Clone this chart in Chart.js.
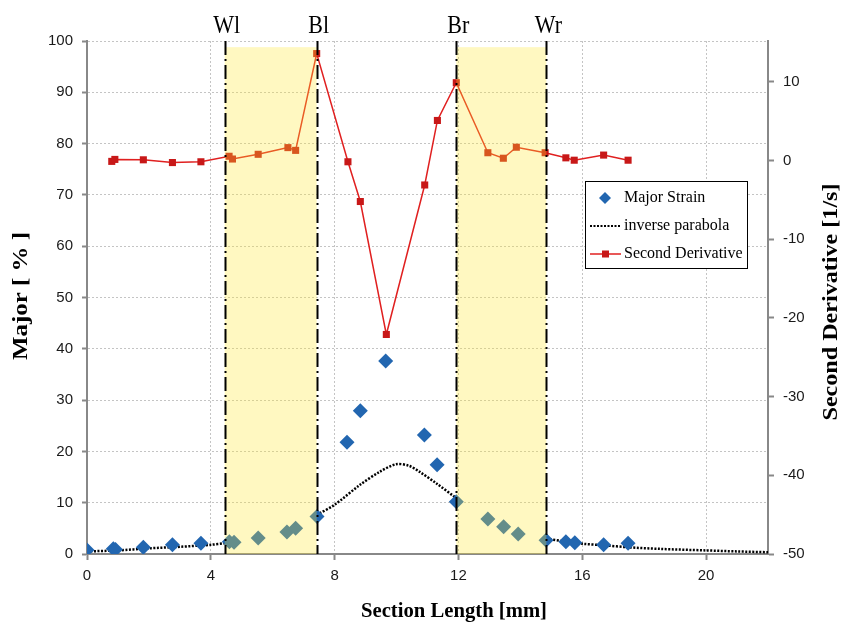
<!DOCTYPE html>
<html>
<head>
<meta charset="utf-8">
<script src="https://cdn.jsdelivr.net/npm/chart.js@4.4.0/dist/chart.umd.min.js"></script>
<style>
  body { margin: 0; background: #fff; }
  #wrap { width: 853px; height: 628px; position: relative; }
</style>
</head>
<body>
<div id="wrap"><canvas id="myChart"></canvas></div>
<script>
// major strain points [mm, %]
const strainX = [0, 0.85, 0.92, 1.82, 2.76, 3.68, 4.6, 4.75, 5.53, 6.46, 6.74, 7.43, 8.4, 8.83, 9.65, 10.9, 11.31, 11.93, 12.95, 13.46, 13.93, 14.83, 15.47, 15.76, 16.69, 17.48];
const strainY = [0.8, 1.0, 0.9, 1.3, 1.8, 2.1, 2.4, 2.3, 3.1, 4.3, 5.0, 7.3, 21.8, 27.9, 37.6, 23.2, 17.4, 10.2, 6.8, 5.3, 3.9, 2.7, 2.4, 2.2, 1.8, 2.1];

// inverse parabola fit (no values inside the bands)
const parabolaX = [0, 1, 2, 3, 4, 4.45, 6, 7.42, 8.0, 8.8, 9.45, 9.98, 10.4, 10.75, 11.28, 11.93, 13.4, 14.84, 15.5, 16, 16.7, 17.5, 18.5, 20, 21, 22];
const parabolaY = [0.5, 0.7, 1.1, 1.4, 1.8, 2.1, null, 7.6, 9.6, 13.4, 16.0, 17.5, 17.2, 16.0, 13.8, 10.9, null, 3.0, 2.4, 2.0, 1.7, 1.3, 1.0, 0.7, 0.5, 0.35];

// second derivative [1/s]
const derivX = [0.8, 0.9, 1.82, 2.76, 3.68, 4.59, 4.7, 5.53, 6.49, 6.74, 7.42, 8.43, 8.83, 9.67, 10.91, 11.32, 11.93, 12.95, 13.45, 13.87, 14.8, 15.47, 15.74, 16.69, 17.48];
const derivY = [-0.1, 0.15, 0.1, -0.25, -0.15, 0.55, 0.2, 0.8, 1.65, 1.3, 13.6, -0.15, -5.2, -22.1, -3.1, 5.1, 9.9, 1.0, 0.3, 1.7, 1.0, 0.35, 0.05, 0.7, 0.05];

// weld / boundary markers
const markerNames = ['Wl', 'Bl', 'Br', 'Wr'];
const markerX = [4.45, 7.42, 11.93, 14.84];

const rightTicks = [-50, -40, -30, -20, -10, 0, 10];

function pts(xs, ys) {
    return xs.map((x, i) => ({ x: x, y: ys[i] }));
}

const serif = "'Liberation Serif', 'Times New Roman', serif";
const sans = "'Liberation Sans', Arial, sans-serif";

// draws a bold serif title stretched to a given length
function drawTitle(ctx, text, cx, cy, angle, length) {
    ctx.save();
    ctx.font = 'bold 20px ' + serif;
    ctx.fillStyle = '#000';
    ctx.textAlign = 'center';
    ctx.textBaseline = 'middle';
    const w = ctx.measureText(text).width;
    ctx.translate(cx, cy);
    ctx.rotate(angle);
    ctx.scale(length / w, 1);
    ctx.fillText(text, 0, 0);
    ctx.restore();
}

// yellow bands drawn over the data, then the dash-dot lines and their names
const bandsPlugin = {
    id: 'bands',
    afterDatasetsDraw(chart) {
        const { ctx, chartArea, scales } = chart;
        const xs = scales.x, ys = scales.y;
        const top = ys.getPixelForValue(98.8), bottom = ys.getPixelForValue(0);
        ctx.save();
        ctx.fillStyle = 'rgba(255,232,50,0.3)';
        [[0, 1], [2, 3]].forEach(p => {
            const a = xs.getPixelForValue(markerX[p[0]]);
            const b = xs.getPixelForValue(markerX[p[1]]);
            ctx.fillRect(a, top, b - a, bottom - top);
        });
        ctx.strokeStyle = '#000';
        ctx.lineWidth = 2;
        ctx.setLineDash([14, 4, 2, 4]);
        markerX.forEach(v => {
            const px = Math.round(xs.getPixelForValue(v)) + 0.5;
            ctx.beginPath();
            ctx.moveTo(px, chartArea.top);
            ctx.lineTo(px, chartArea.bottom);
            ctx.stroke();
        });
        ctx.setLineDash([]);
        ctx.fillStyle = '#000';
        ctx.font = '22px ' + serif;
        ctx.textAlign = 'center';
        ctx.textBaseline = 'middle';
        markerNames.forEach((n, i) => {
            ctx.save();
            ctx.translate(xs.getPixelForValue(markerX[i]) + 2, 27);
            ctx.scale(1, 1.12);
            ctx.fillText(n, 0, 0);
            ctx.restore();
        });
        ctx.restore();
    },
    afterDraw(chart) {
        const ctx = chart.ctx;
        drawTitle(ctx, 'Major [ % ]', 22, 296, -Math.PI / 2, 128);
        drawTitle(ctx, 'Second Derivative [1/s]', 832, 302, -Math.PI / 2, 237);
        drawTitle(ctx, 'Section Length [mm]', 454, 612, 0, 186);

        // legend box
        ctx.save();
        const lx = 585, ly = 181, lw = 162, lh = 87;
        ctx.fillStyle = '#fff';
        ctx.fillRect(lx, ly, lw, lh);
        ctx.strokeStyle = '#000';
        ctx.lineWidth = 1;
        ctx.strokeRect(lx + 0.5, ly + 0.5, lw, lh);
        ctx.font = '16px ' + serif;
        ctx.fillStyle = '#000';
        ctx.textBaseline = 'middle';
        const rows = [198, 226, 254];
        ctx.fillText('Major Strain', 624, rows[0]);
        ctx.fillText('inverse parabola', 624, rows[1]);
        ctx.fillText('Second Derivative', 624, rows[2]);
        // diamond
        ctx.fillStyle = '#2266b0';
        ctx.beginPath();
        ctx.moveTo(605, rows[0] - 6);
        ctx.lineTo(611, rows[0]);
        ctx.lineTo(605, rows[0] + 6);
        ctx.lineTo(599, rows[0]);
        ctx.closePath();
        ctx.fill();
        // dotted
        ctx.strokeStyle = '#000';
        ctx.lineWidth = 2;
        ctx.setLineDash([2, 1.5]);
        ctx.beginPath();
        ctx.moveTo(590, rows[1]);
        ctx.lineTo(621, rows[1]);
        ctx.stroke();
        ctx.setLineDash([]);
        // red line with square
        ctx.strokeStyle = '#e02020';
        ctx.lineWidth = 1.5;
        ctx.beginPath();
        ctx.moveTo(590, rows[2]);
        ctx.lineTo(621, rows[2]);
        ctx.stroke();
        ctx.fillStyle = '#c81818';
        ctx.fillRect(602, rows[2] - 3.5, 7, 7);
        ctx.restore();
    }
};

function loadChart() {
    const ctx = document.getElementById('myChart').getContext('2d');
    new Chart(ctx, {
        type: 'scatter',
        data: {
            datasets: [
                {
                    label: 'Major Strain',
                    data: pts(strainX, strainY),
                    yAxisID: 'y',
                    pointStyle: 'rectRot',
                    pointRadius: 7.5,
                    backgroundColor: '#2266b0',
                    borderColor: '#2266b0',
                    borderWidth: 0,
                    showLine: false
                },
                {
                    label: 'inverse parabola',
                    data: pts(parabolaX, parabolaY),
                    yAxisID: 'y',
                    showLine: true,
                    spanGaps: false,
                    borderColor: '#000',
                    borderWidth: 2.5,
                    borderDash: [2, 1.5],
                    pointRadius: 0,
                    tension: 0.3
                },
                {
                    label: 'Second Derivative',
                    data: pts(derivX, derivY),
                    yAxisID: 'y2',
                    showLine: true,
                    borderColor: '#e02020',
                    borderWidth: 1.5,
                    pointStyle: 'rect',
                    pointRadius: 5,
                    backgroundColor: '#c81818',
                    pointBorderWidth: 0
                }
            ]
        },
        options: {
            responsive: true,
            maintainAspectRatio: false,
            animation: false,
            layout: { padding: { top: 41, left: 0, right: 0, bottom: 0 } },
            plugins: {
                legend: { display: false },
                tooltip: { enabled: false }
            },
            scales: {
                x: {
                    type: 'linear',
                    min: 0,
                    max: 22,
                    afterFit: s => { s.height = 74; },
                    ticks: {
                        stepSize: 4,
                        includeBounds: false,
                        padding: 7,
                        color: '#1a1a1a',
                        font: { family: sans, size: 15 }
                    },
                    grid: { color: '#c4c4c4', tickColor: '#888', tickLength: 6, tickWidth: 2 },
                    border: { color: '#888', width: 2, dash: [2, 2] }
                },
                y: {
                    position: 'left',
                    min: 0,
                    max: 100,
                    afterFit: s => { s.width = 87; },
                    ticks: {
                        stepSize: 10,
                        padding: 9,
                        color: '#1a1a1a',
                        font: { family: sans, size: 15 }
                    },
                    grid: { color: '#c4c4c4', tickColor: '#888', tickLength: 5, tickWidth: 2 },
                    border: { color: '#888', width: 2, dash: [2, 2] }
                },
                y2: {
                    position: 'right',
                    min: -50,
                    max: 15.2,
                    afterFit: s => { s.width = 85; },
                    afterBuildTicks: s => { s.ticks = rightTicks.map(v => ({ value: v })); },
                    ticks: {
                        padding: 9,
                        color: '#1a1a1a',
                        font: { family: sans, size: 15 }
                    },
                    grid: { drawOnChartArea: false, tickColor: '#888', tickLength: 6, tickWidth: 2 },
                    border: { color: '#888', width: 2 }
                }
            }
        },
        plugins: [bandsPlugin]
    });
}
document.addEventListener('DOMContentLoaded', loadChart);
</script>
</body>
</html>
